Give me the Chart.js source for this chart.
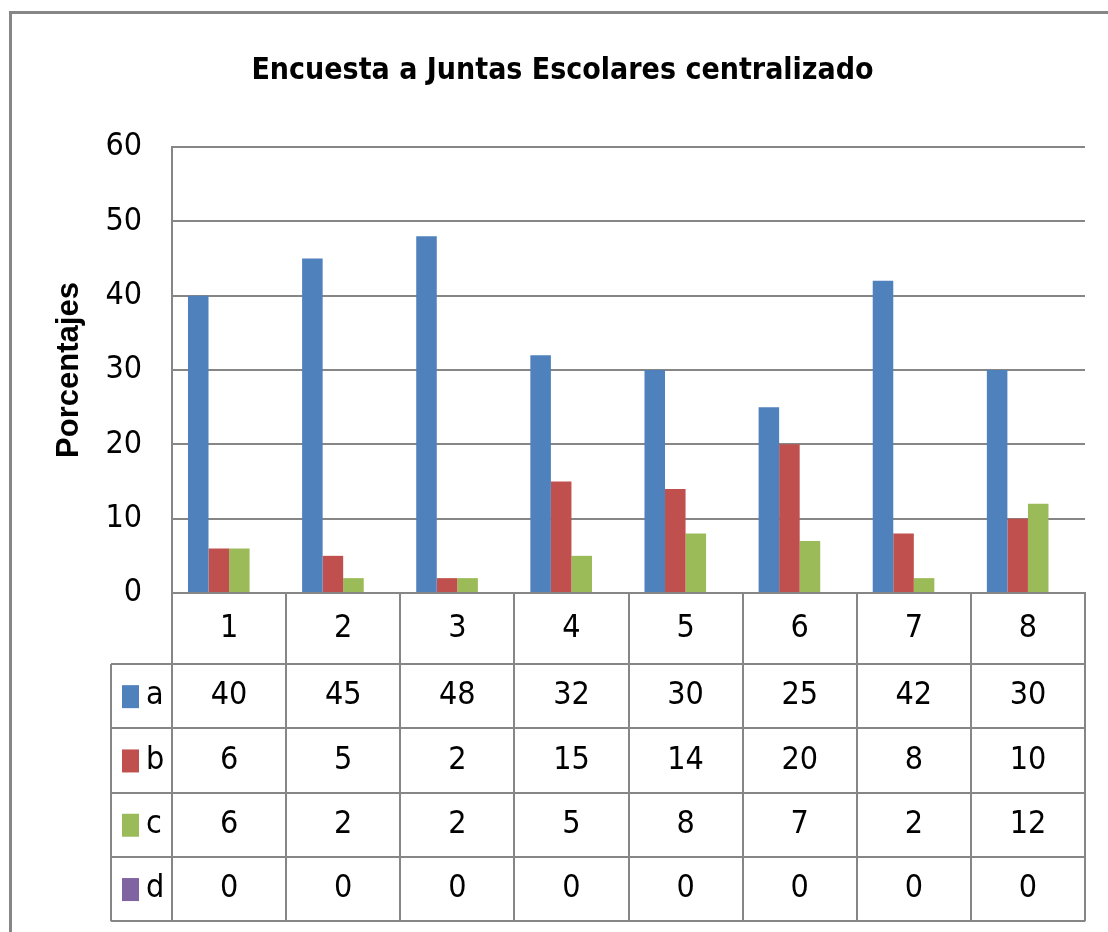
<!DOCTYPE html>
<html>
<head>
<meta charset="utf-8">
<title>Encuesta a Juntas Escolares centralizado</title>
<script src="https://cdn.jsdelivr.net/npm/chart.js@4.4.1/dist/chart.umd.min.js"></script>
<style>
    html, body { margin: 0; padding: 0; background: #fff; }
    #wrap { width: 1108px; height: 932px; position: relative; }
</style>
</head>
<body>
<div id="wrap"><canvas id="chart"></canvas></div>
<script>
const categories = ['1', '2', '3', '4', '5', '6', '7', '8'];
const seriesNames = ['a', 'b', 'c', 'd'];
const seriesA = [40, 45, 48, 32, 30, 25, 42, 30];
const seriesB = [6, 5, 2, 15, 14, 20, 8, 10];
const seriesC = [6, 2, 2, 5, 8, 7, 2, 12];
const seriesD = [0, 0, 0, 0, 0, 0, 0, 0];
const yTicks = [0, 10, 20, 30, 40, 50, 60];

const colors = ['#4f81bd', '#c0504d', '#9bbb59', '#8064a2'];
const gridColor = '#868686';
const fontFamily = '"Liberation Sans Narrow", "DejaVu Sans Condensed", "Liberation Sans", sans-serif';

const seriesValues = [seriesA, seriesB, seriesC, seriesD];

// outer frame like the Excel chart area
const framePlugin = {
    id: 'frame',
    beforeDraw(chart) {
        const ctx = chart.ctx;
        ctx.save();
        ctx.fillStyle = '#fff';
        ctx.fillRect(0, 0, chart.width, chart.height);
        ctx.strokeStyle = gridColor;
        ctx.lineWidth = 3;
        ctx.strokeRect(10.5, 12.5, 1300, 1100);
        ctx.restore();
    }
};

// data table under the x axis
const tablePlugin = {
    id: 'dataTable',
    afterDraw(chart) {
        const { ctx, chartArea } = chart;
        const x = chart.scales.x;
        const top = chartArea.bottom;
        const left = chartArea.left;
        const right = chartArea.right;
        const catRowH = 71;
        const rowH = 64.3;
        const legendLeft = 111;
        const n = categories.length;
        const colW = (right - left) / n;
        const rowsTop = top + catRowH;
        const bottom = rowsTop + rowH * seriesNames.length;

        ctx.save();
        ctx.strokeStyle = gridColor;
        ctx.lineWidth = 2;
        ctx.beginPath();
        for (let r = 0; r <= seriesNames.length; r++) {
            const y = Math.round(rowsTop + r * rowH);
            ctx.moveTo(legendLeft, y);
            ctx.lineTo(right, y);
        }
        ctx.moveTo(legendLeft, rowsTop);
        ctx.lineTo(legendLeft, bottom);
        for (let i = 0; i <= n; i++) {
            const xx = Math.round(left + i * colW);
            ctx.moveTo(xx, top);
            ctx.lineTo(xx, bottom);
        }
        ctx.stroke();

        ctx.fillStyle = '#000';
        ctx.font = '32px ' + fontFamily;
        ctx.textBaseline = 'middle';
        seriesNames.forEach((name, r) => {
            const cy = rowsTop + r * rowH + rowH / 2;
            ctx.fillStyle = colors[r];
            ctx.fillRect(122, cy - 11, 17, 23);
            ctx.fillStyle = '#000';
            ctx.textAlign = 'left';
            ctx.fillText(name, 146, cy);
            ctx.textAlign = 'center';
            seriesValues[r].forEach((v, i) => {
                ctx.fillText(String(v), x.getPixelForValue(i), cy);
            });
        });
        ctx.restore();
    }
};

new Chart(document.getElementById('chart'), {
    type: 'bar',
    data: {
        labels: categories,
        datasets: seriesNames.map((name, i) => ({
            label: name,
            data: seriesValues[i],
            backgroundColor: colors[i],
            borderWidth: 0
        }))
    },
    options: {
        responsive: true,
        maintainAspectRatio: false,
        animation: false,
        categoryPercentage: 0.72,
        barPercentage: 1.0,
        layout: {
            padding: { left: 40, right: 23, top: 0, bottom: 268 }
        },
        plugins: {
            legend: { display: false },
            tooltip: { enabled: false },
            title: {
                display: true,
                text: 'Encuesta a Juntas Escolares centralizado',
                color: '#000',
                font: { family: fontFamily, size: 30, weight: 'bold', lineHeight: 1.2 },
                padding: { top: 53, bottom: 58 }
            }
        },
        scales: {
            x: {
                grid: { display: false, drawTicks: false },
                border: { display: true, color: gridColor, width: 2 },
                ticks: {
                    color: '#000',
                    padding: 16,
                    font: { family: fontFamily, size: 32 }
                },
                afterFit(scale) { scale.height = 71; }
            },
            y: {
                min: 0,
                max: 60,
                afterBuildTicks(scale) {
                    scale.ticks = yTicks.map((v) => ({ value: v }));
                },
                grid: { color: gridColor, lineWidth: 2, drawTicks: false },
                border: { display: true, color: gridColor, width: 2 },
                ticks: {
                    color: '#000',
                    padding: 30,
                    font: { family: fontFamily, size: 32 }
                },
                title: {
                    display: true,
                    text: 'Porcentajes',
                    color: '#000',
                    font: { family: '"Liberation Sans", sans-serif', size: 31, weight: 'bold', lineHeight: 1.2 },
                    padding: { top: 11, bottom: 0 }
                },
                afterFit(scale) { scale.width = 132; }
            }
        }
    },
    plugins: [framePlugin, tablePlugin]
});
</script>
</body>
</html>
